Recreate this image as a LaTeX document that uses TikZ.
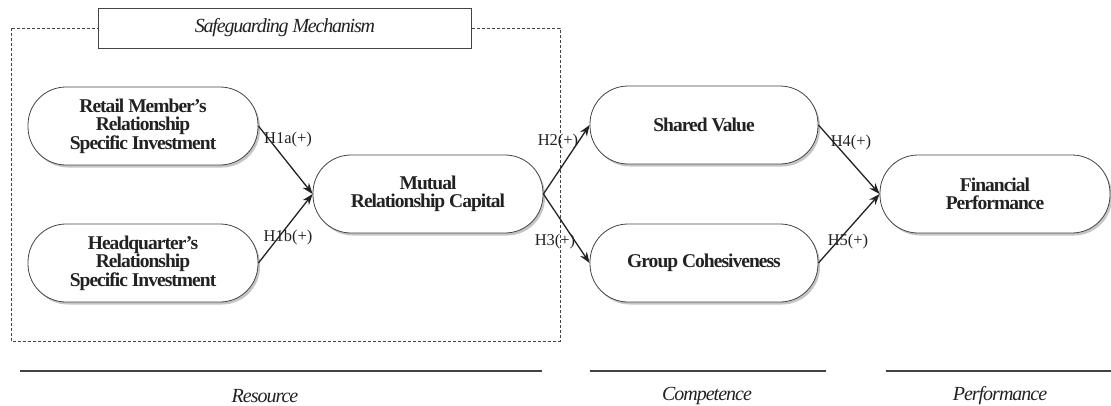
\documentclass[tikz,border=0pt]{standalone}
\usepackage{fontspec}
\setmainfont{Liberation Serif}
\usetikzlibrary{arrows.meta,shadows}
\definecolor{ink}{HTML}{222222}
\definecolor{edge}{HTML}{444444}
\begin{document}
\begin{tikzpicture}[x=1pt,y=-1pt,
  construct/.style={draw=edge,line width=0.8pt,fill=white,rounded corners=38pt,
    minimum width=230pt,minimum height=78pt,align=center,text=ink,
    font=\addfontfeature{LetterSpace=-5}\fontsize{19.5}{18.5}\selectfont\bfseries,
    drop shadow={shadow xshift=2pt,shadow yshift=-2.5pt,fill=black!45,opacity=0.5}},
  hyp/.style={font=\fontsize{16.5}{18}\selectfont,text=ink,inner sep=0pt},
  path/.style={draw=ink,line width=1.3pt,-{Stealth[length=11pt,width=8pt]}},
  stage/.style={font=\addfontfeature{LetterSpace=-5}\fontsize{20}{22}\selectfont\itshape,text=ink,inner sep=0pt},
  stageline/.style={draw=ink!85,line width=1.8pt}]
\useasboundingbox (0,0) rectangle (1111,405);
% safeguarding region
\draw[edge,line width=0.7pt,dash pattern=on 3pt off 2pt] (11,28) rectangle (560,341);
\node[draw=edge,line width=0.7pt,fill=white,minimum width=373pt,minimum height=40pt,
  font=\addfontfeature{LetterSpace=-6}\fontsize{20}{22}\selectfont\itshape,text=ink]
  (safe) at (285,28) {Safeguarding Mechanism};
% constructs
\node[construct] (rsi) at (143,126) {Retail Member's\\Relationship\\Specific Investment};
\node[construct] (hsi) at (143,263) {Headquarter's\\Relationship\\Specific Investment};
\node[construct] (mrc) at (428,194) {Mutual\\Relationship Capital};
\node[construct,minimum width=228pt] (sv) at (704,125) {Shared Value};
\node[construct,minimum width=228pt] (gc) at (704,263) {Group Cohesiveness};
\node[construct] (fp) at (995,194) {Financial\\Performance};
% paths
\draw[path] (rsi.east) -- (mrc.west);
\draw[path] (hsi.east) -- (mrc.west);
\draw[path] (mrc.east) -- (sv.west);
\draw[path] (mrc.east) -- (gc.west);
\draw[path] (sv.east) -- (fp.west);
\draw[path] (gc.east) -- (fp.west);
% hypothesis labels
\node[hyp] (h1a) at (288,140) {H1a(+)};
\node[hyp] (h1b) at (288,238) {H1b(+)};
\node[hyp] (h2) at (558,142) {H2(+)};
\node[hyp] (h3) at (555,242) {H3(+)};
\node[hyp] (h4) at (851,143) {H4(+)};
\node[hyp] (h5) at (848,242) {H5(+)};
% stages
\coordinate (r1) at (20,371); \coordinate (r2) at (542,371);
\coordinate (c1) at (590,371); \coordinate (c2) at (826,371);
\coordinate (p1) at (886,371); \coordinate (p2) at (1111,371);
\draw[stageline] (r1) -- (r2);
\draw[stageline] (c1) -- (c2);
\draw[stageline] (p1) -- (p2);
\node[stage] (res) at (265,396) {Resource};
\node[stage] (com) at (707,396) {Competence};
\node[stage] (per) at (1000,396) {Performance};
\end{tikzpicture}
\end{document}
